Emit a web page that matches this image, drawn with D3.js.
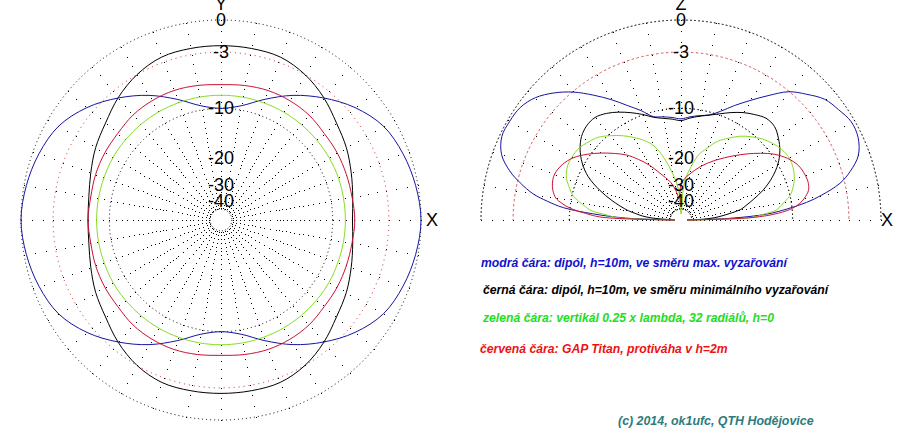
<!DOCTYPE html>
<html><head><meta charset="utf-8">
<script src="https://cdn.jsdelivr.net/npm/d3@7"></script>
<style>body{margin:0;background:#fff} svg{display:block}</style>
</head><body><svg id="c" width="902" height="436"></svg>
<script>
// ---------- DATA ----------
// Azimuth plot (XY plane): angle in degrees from +X, counter-clockwise
const azAngles = [0,10,20,30,40,50,60,70,80,90,100,110,120,130,140,150,160,170,180,190,200,210,220,230,240,250,260,270,280,290,300,310,320,330,340,350];
const azBlue  = [0,-0.2,-0.55,-1.1,-2.3,-3.9,-5.65,-7.6,-9.35,-10.0,-9.35,-7.6,-5.65,-3.9,-2.3,-1.1,-0.55,-0.2,0,-0.2,-0.55,-1.1,-2.3,-3.9,-5.65,-7.6,-9.35,-10.0,-9.35,-7.6,-5.65,-3.9,-2.3,-1.1,-0.55,-0.2];
const azBlack = [-7.2,-6.9,-6.3,-5.55,-4.85,-3.85,-3.0,-2.45,-2.37,-2.36,-2.37,-2.45,-3.0,-3.85,-4.85,-5.55,-6.3,-6.85,-7.0,-6.85,-6.3,-5.55,-4.85,-3.85,-3.0,-2.5,-2.45,-2.45,-2.45,-2.5,-3.0,-3.85,-4.85,-5.55,-6.3,-6.9];
const azRed   = [-6.9,-7.0,-6.95,-6.85,-6.78,-6.5,-6.4,-6.4,-6.55,-6.7,-6.55,-6.4,-6.4,-6.5,-6.78,-6.85,-6.95,-7.1,-7.0,-7.1,-6.95,-6.85,-6.78,-6.5,-6.4,-6.4,-6.55,-6.7,-6.55,-6.4,-6.4,-6.5,-6.78,-6.85,-6.95,-7.0];
const azGreen = [-8.15,-8.15,-8.1,-8.1,-8.1,-8.1,-8.1,-8.1,-8.1,-8.1,-8.1,-8.1,-8.1,-8.1,-8.1,-8.1,-8.15,-8.15,-8.15,-8.15,-8.15,-8.1,-8.1,-8.1,-8.1,-8.1,-8.1,-8.1,-8.1,-8.1,-8.1,-8.1,-8.1,-8.1,-8.15,-8.15];

// Elevation plot (XZ plane): angle in degrees from +X towards Z
const elAngles = [0,2,4,6,8,10,13,16,20,25,30,35,40,45,50,55,60,65,70,75,80,85,90,95,100,105,110,115,120,125,130,135,140,145,150,155,160,164,167,170,172,174,176,178,180];
const elBlue  = [-60,-24,-14.3,-10.7,-7.8,-5.8,-3.5,-2.2,-1.0,-0.4,-0.3,-0.67,-1.09,-2.02,-3.05,-4.73,-6.38,-7.9,-9.4,-10.45,-10.9,-11.3,-11.7,-11.4,-11.1,-10.73,-9.3,-7.9,-6.26,-4.67,-3.1,-1.84,-0.86,-0.33,-0.2,-0.2,-0.8,-1.98,-3.3,-4.94,-6.75,-9.0,-14.1,-22,-60];
const elBlack = [-60,-38,-30.5,-26.7,-23.4,-20.45,-18.6,-16.7,-14.2,-11.8,-9.96,-8.67,-7.77,-7.1,-7.05,-7.57,-8.2,-8.98,-9.8,-10.49,-11.0,-11.5,-12.0,-11.68,-11.35,-10.84,-9.9,-9.0,-8.13,-7.38,-6.9,-6.96,-7.41,-8.32,-9.63,-11.5,-14.47,-17.4,-19.9,-22.65,-25.4,-28.1,-33,-48,-60];
const elGreen = [-60,-17.8,-15.1,-12.56,-11.8,-11.0,-9.9,-9.29,-8.68,-8.25,-8.1,-8.35,-8.86,-9.54,-10.46,-11.52,-12.9,-14.3,-16.5,-18.7,-23.1,-28.5,-60,-32,-25,-19.7,-16.0,-14.1,-12.7,-11.4,-10.25,-9.2,-8.6,-8.08,-7.95,-8.0,-8.5,-9.36,-10.05,-11.4,-12.5,-13.6,-16.8,-19.8,-60];
const elRed   = [-60,-17.7,-12.3,-9.95,-8.76,-8.03,-7.29,-7.06,-7.13,-7.48,-8.33,-9.57,-11.26,-13.05,-14.87,-16.6,-18.25,-19.9,-21.6,-23.4,-25.2,-27.0,-29.5,-38,-32.5,-28.2,-25.6,-22.9,-19.7,-17.1,-14.7,-12.94,-11.2,-9.56,-8.15,-7.26,-6.82,-6.9,-7.2,-7.77,-8.7,-10.1,-12.6,-15.9,-60];

const tickDb = [0,-3,-10,-20,-30,-40];
const tickLabels = ["0","-3","-10","-20","-30","-40"];
const legendTexts = [
  "modrá čára: dipól, h=10m, ve směru max. vyzařování",
  "černá čára: dipól, h=10m, ve směru minimálního vyzařování",
  "zelená čára: vertikál 0.25 x lambda, 32 radiálů, h=0",
  "červená čára: GAP Titan, protiváha v h=2m"
];
const copyright = "(c) 2014, ok1ufc, QTH Hodějovice";

// ---------- DRAWING ----------
const svg = d3.select("#c");
svg.append("rect").attr("width",902).attr("height",436).attr("fill","#fff");
const R = 200;
// ARRL log scale: each 2 dB = factor 0.89 in radius -> r = R * P^0.25305 (P = power ratio)
const pw = d3.scalePow().exponent(-5*Math.log10(0.89)).domain([0,1]).range([0,R]);
const rad = db => pw(Math.pow(10, db/10));
const toRad = a => (90 - a) * Math.PI / 180; // lineRadial angle (clockwise from top)

const colors = {blue:"#1515a0", black:"#000000", green:"#88dd22", red:"#cc1133"};
const font = "'Liberation Sans', Arial, sans-serif";

function grid(g, full) {
  const maxA = full ? 360 : 180.1;
  const dbSteps = d3.range(0, -51, -1);
  for (let a = 0; a < maxA; a += 10) {
    let last = -100;
    dbSteps.forEach(d => {
      const r = rad(d);
      if (Math.abs(last - r) < 3.2) return;
      last = r;
      const t = a * Math.PI/180;
      g.append("rect").attr("x", Math.round(r*Math.cos(t))).attr("y", Math.round(-r*Math.sin(t)))
        .attr("width",1).attr("height",1).attr("fill","#000").attr("shape-rendering","crispEdges");
    });
  }
  const circ = [[0,"#000","1 3"],[-3,"#cc2222","1 4"],[-10,"#000","1 3"],[-50,"#000","1 2"]];
  circ.forEach(([d,c,da]) => {
    const r = rad(d);
    if (full) {
      g.append("circle").attr("r", r).attr("fill","none").attr("stroke",c)
        .attr("stroke-width",1).attr("stroke-dasharray",da);
    } else {
      g.append("path").attr("d", d3.arc()({innerRadius:r, outerRadius:r, startAngle:-Math.PI/2, endAngle:Math.PI/2}))
        .attr("fill","none").attr("stroke",c).attr("stroke-width",1).attr("stroke-dasharray",da);
    }
  });
}

function labels(g, axisName, xPos) {
  tickDb.forEach((d,i) => {
    g.append("text").attr("x",0).attr("y",-rad(d)).attr("text-anchor","middle")
      .attr("dominant-baseline","central").attr("font-family",font).attr("font-size",18)
      .attr("fill","#000").text(tickLabels[i]);
  });
  g.append("text").attr("x",0).attr("y",-210).attr("text-anchor","middle")
    .attr("font-family",font).attr("font-size",18).text(axisName);
  g.append("text").attr("x",xPos).attr("y",0).attr("text-anchor","middle")
    .attr("dominant-baseline","central").attr("font-family",font).attr("font-size",18).text("X");
}

// Left: azimuth
const gL = svg.append("g").attr("transform","translate(221,220)");
grid(gL, true);
const lineClosed = d3.lineRadial().curve(d3.curveCatmullRomClosed.alpha(0.5));
[["blue",azBlue],["black",azBlack],["red",azRed],["green",azGreen]].forEach(([k,vals]) => {
  const pts = azAngles.map((a,i) => [toRad(a), rad(vals[i])]);
  gL.append("path").attr("d", lineClosed(pts)).attr("fill","none").attr("stroke",colors[k]).attr("stroke-width",1);
});
labels(gL, "Y", 211);

// Right: elevation
const gR = svg.append("g").attr("transform","translate(681,220)");
grid(gR, false);
const lineOpen = d3.lineRadial().curve(d3.curveCatmullRom.alpha(0.5));
[["blue",elBlue],["black",elBlack],["green",elGreen],["red",elRed]].forEach(([k,vals]) => {
  const pts = elAngles.map((a,i) => [toRad(a), rad(vals[i])]);
  gR.append("path").attr("d", lineOpen(pts)).attr("fill","none").attr("stroke",colors[k]).attr("stroke-width",1);
});
labels(gR, "Z", 206);

// Legend
const legColors = ["#1111cc","#000000","#22dd22","#ee1111"];
const legX = [481,483,483,480];
const legY = [267,294,322,353];
legendTexts.forEach((t,i) => {
  svg.append("text").attr("x",legX[i]).attr("y",legY[i]).attr("font-family",font)
    .attr("font-size",12.2).attr("font-style","italic").attr("font-weight","bold")
    .attr("fill",legColors[i]).text(t);
});
svg.append("text").attr("x",618).attr("y",425).attr("font-family",font)
  .attr("font-size",12.4).attr("font-style","italic").attr("font-weight","bold")
  .attr("fill","#2e7b7b").text(copyright);
</script></body></html>
